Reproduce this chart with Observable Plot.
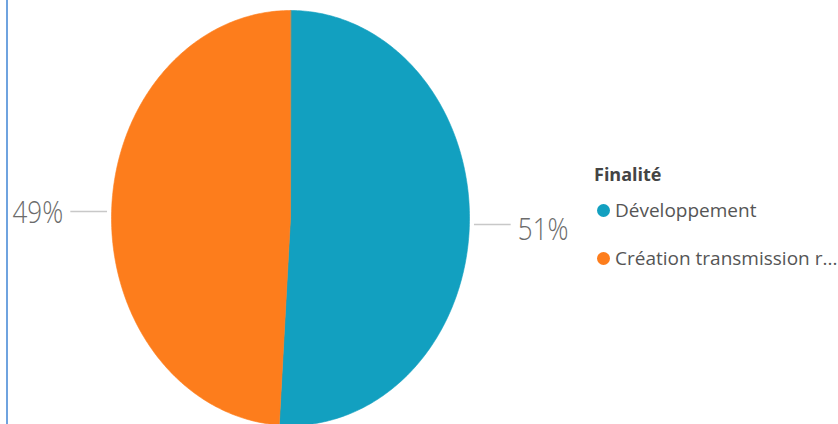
<!DOCTYPE html>
<html>
<head>
<meta charset="utf-8">
<script src="https://cdn.jsdelivr.net/npm/d3@7"></script>
<script src="https://cdn.jsdelivr.net/npm/@observablehq/plot@0.6"></script>
<style>
  html, body { margin: 0; padding: 0; background: #fff; }
  #wrap { position: relative; width: 838px; height: 424px; overflow: hidden; }
  #border { position: absolute; left: 6px; top: 0; width: 2px; height: 424px; background: #6FA3DF; }
  #legend { position: absolute; left: 0; top: 0; font-family: "Open Sans", sans-serif; color: #555; }
  #legend .title { position: absolute; left: 594px; top: 163px; font-weight: 700; font-size: 18px; line-height: 22px; color: #444; white-space: nowrap; }
  #legend .item { position: absolute; left: 597px; display: flex; align-items: center; font-size: 19px; height: 24px; line-height: 24px; white-space: nowrap; }
  #legend .dot { width: 13px; height: 13px; border-radius: 50%; margin-right: 5px; }
</style>
</head>
<body>
<div id="wrap">
  <div id="chart"></div>
  <div id="border"></div>
  <div id="legend"></div>
</div>
<script>
const categories = ["Développement", "Création transmission r..."];
const shares = [51, 49];
const shareLabels = ["51%", "49%"];
const colors = ["#12A0C0", "#FD7D1C"];
const legendTitle = "Finalité";

const arcs = d3.pie().sort(null)(shares);

const slices = arcs.map((a, i) => {
  const pts = [{x: 0, y: 0}];
  const n = 240;
  for (let k = 0; k <= n; k++) {
    const t = a.startAngle + (a.endAngle - a.startAngle) * k / n;
    pts.push({x: Math.sin(t), y: Math.cos(t)});
  }
  return {pts, color: colors[i]};
});

const labelData = arcs.map((a, i) => {
  const mid = (a.startAngle + a.endAngle) / 2;
  const side = Math.sin(mid) >= 0 ? 1 : -1;
  const y = Math.cos(mid);
  return {x1: side * 1.025, x2: side * 1.23, xt: side * 1.27, y, side, label: shareLabels[i]};
});

const marks = [];
slices.forEach(s => {
  marks.push(Plot.line(s.pts, {x: "x", y: "y", curve: "linear-closed", fill: s.color, stroke: s.color, strokeWidth: 0.6}));
});
marks.push(Plot.link(labelData, {x1: "x1", x2: "x2", y1: "y", y2: "y", stroke: "#c8c8c8", strokeWidth: 1.5}));
marks.push(Plot.text(labelData.filter(d => d.side > 0), {x: "xt", y: "y", text: "label", textAnchor: "start", dy: 5, fontSize: 26, fill: "#6b6b6b", fontWeight: 300}));
marks.push(Plot.text(labelData.filter(d => d.side < 0), {x: "xt", y: "y", text: "label", textAnchor: "end", dy: 1.5, fontSize: 26, fill: "#6b6b6b", fontWeight: 300}));

const chart = Plot.plot({
  width: 838,
  height: 424,
  margin: 0,
  x: {domain: [-1, 1], range: [111, 469], axis: null},
  y: {domain: [-1, 1], range: [425, 10], axis: null},
  style: {fontFamily: "'Open Sans', sans-serif", background: "#fff"},
  marks
});
document.getElementById("chart").appendChild(chart);

// stretch the percentage labels vertically, as in the reference
chart.querySelectorAll('g[aria-label="text"] text').forEach(t => {
  const tr = t.getAttribute("transform");
  if (tr) {
    t.setAttribute("transform", tr + " scale(1,1.2)");
  } else {
    const x = +t.getAttribute("x") || 0, y = +t.getAttribute("y") || 0;
    t.setAttribute("transform", `translate(${x},${y}) scale(1,1.2) translate(${-x},${-y})`);
  }
});

const legend = document.getElementById("legend");
const t = document.createElement("div");
t.className = "title";
t.textContent = legendTitle;
legend.appendChild(t);
categories.forEach((c, i) => {
  const it = document.createElement("div");
  it.className = "item";
  it.style.top = (198 + i * 48) + "px";
  const d = document.createElement("span");
  d.className = "dot";
  d.style.background = colors[i];
  const s = document.createElement("span");
  s.textContent = c;
  it.appendChild(d);
  it.appendChild(s);
  legend.appendChild(it);
});
</script>
</body>
</html>
